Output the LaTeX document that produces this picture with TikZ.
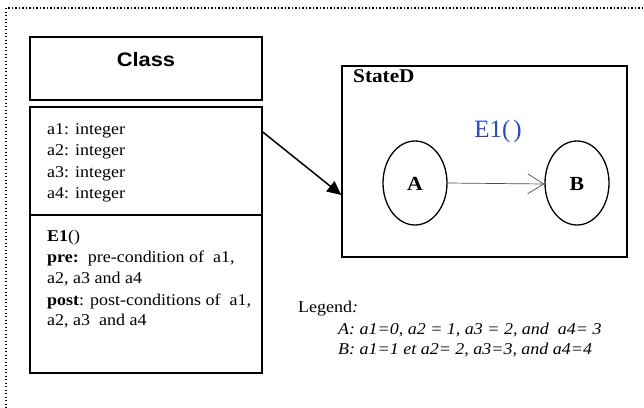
\documentclass[tikz,border=0pt]{standalone}
\usepackage{fontspec}
\setmainfont[FakeStretch=1.09]{Liberation Serif}
\newfontfamily\arialfont[FakeStretch=1.12]{Liberation Sans}
\newfontfamily\plainserif{Liberation Serif}
\usetikzlibrary{arrows.meta,shapes.geometric}
\definecolor{eblue}{RGB}{35,70,205}
\tikzset{
  box/.style={draw=black, line width=1.5pt, inner sep=0pt},
  txt/.style={anchor=base west, inner sep=0pt, font=\fontsize{16.5}{18}\selectfont},
  state/.style={draw=black, line width=1.3pt, ellipse, minimum width=64pt, minimum height=84pt, inner sep=0pt},
  bigarrow/.style={line width=1.5pt, -{Triangle[length=14pt,width=13pt]}},
  thinarrow/.style={draw=black!70, line width=0.7pt, -{Straight Barb[length=16pt,width=20pt,line width=0.7pt]}}
}
\begin{document}
\begin{tikzpicture}[x=1pt,y=-1pt]
\useasboundingbox (0,0) rectangle (644,407);
\begin{scope}
\clip (0,0) rectangle (644,407);
\draw[line width=1.1pt, dash pattern=on 1.2pt off 2.3pt] (6,8) rectangle (660,425);
\end{scope}
% class boxes
\node[box, minimum width=232pt, minimum height=63pt] (hdr) at (146,68.5) {};
\node[box, minimum width=232pt, minimum height=108pt] (attrs) at (146,161) {};
\node[box, minimum width=232pt, minimum height=158pt] (ops) at (146,294) {};
\node[anchor=base, inner sep=0pt, font=\arialfont\bfseries\fontsize{19.5}{20}\selectfont] (cname) at (146,66) {Class};
\node[txt] (a1) at (47,134) {a1: integer};
\node[txt] (a2) at (47,155.5) {a2: integer};
\node[txt] (a3) at (47,177) {a3: integer};
\node[txt] (a4) at (47,198.5) {a4: integer};
\node[txt] (o1) at (47,241) {\textbf{E1}()};
\node[txt] (o2) at (47,262.5) {\textbf{pre:}\ \ pre-condition of\ \ a1,};
\node[txt] (o3) at (47,283.5) {a2, a3 and a4};
\node[txt] (o4) at (47,305) {\textbf{post}: post-conditions of\ \ a1,};
\node[txt] (o5) at (47,325.5) {a2, a3\ \ and a4};
% state diagram
\node[box, minimum width=285pt, minimum height=191pt] (sd) at (484.5,161.5) {};
\node[anchor=base west, inner sep=0pt, font=\bfseries\fontsize{19.5}{20}\selectfont] (sdname) at (353,82) {StateD};
\node[state] (A) at (415,183) {};
\node[state] (B) at (577,183) {};
\node[anchor=base, inner sep=0pt, font=\bfseries\fontsize{20}{20}\selectfont] (Al) at (415,190) {A};
\node[anchor=base, inner sep=0pt, font=\bfseries\fontsize{20}{20}\selectfont] (Bl) at (577,190) {B};
\node[anchor=base, inner sep=0pt, text=eblue, font=\plainserif\fontsize{25}{26}\selectfont] (ev) at (498,137) {E1(\kern3pt)};
\draw[thinarrow] (A.east) -- ([yshift=-1pt]B.west);
\draw[bigarrow] (attrs.north east |- 0,132) -- (sd.west |- 0,195);
% legend
\node[txt] (lg) at (298,312) {Legend\textit{:}};
\node[txt, font=\itshape\fontsize{16.5}{18}\selectfont] (lA) at (338,334) {A: a1=0, a2 = 1, a3 = 2, and\ \ a4= 3};
\node[txt, font=\itshape\fontsize{16.5}{18}\selectfont] (lB) at (338,354) {B: a1=1 et a2= 2, a3=3, and a4=4};
\end{tikzpicture}
\end{document}
